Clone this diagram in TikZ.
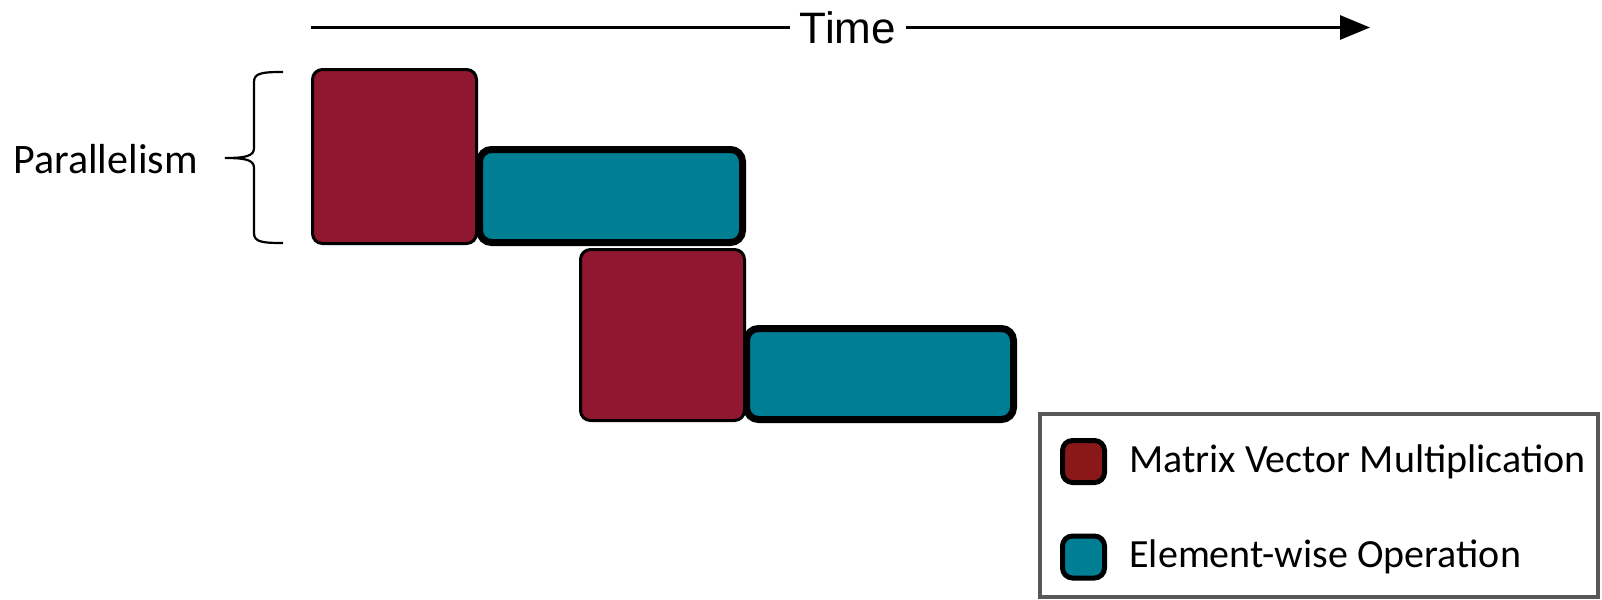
\documentclass[tikz,border=0pt]{standalone}
\usepackage{fontspec}
\setmainfont{Carlito}
\newfontfamily\timefont{Liberation Sans}
\usetikzlibrary{arrows.meta}
\definecolor{mvmred}{HTML}{8F1830}
\definecolor{ewteal}{HTML}{007E94}
\definecolor{legred}{HTML}{8B1818}
\definecolor{framegray}{HTML}{58585A}
\tikzset{
  mvmbox/.style={draw=black, line width=1.5pt, fill=mvmred, rounded corners=5pt,
    inner sep=0pt, minimum width=82pt},
  ewbox/.style={draw=black, line width=3.5pt, fill=ewteal, rounded corners=6pt,
    inner sep=0pt},
  legsq/.style={draw=black, line width=2.5pt, rounded corners=5pt, inner sep=0pt,
    minimum width=21pt, minimum height=21pt},
  legtext/.style={anchor=west, inner sep=0pt, font=\fontsize{20pt}{24pt}\selectfont},
}
\begin{document}
\begin{tikzpicture}[x=0.5pt, y=-0.5pt]
\useasboundingbox (0,0) rectangle (1602,600);

% time axis
\coordinate (tstart) at (311,27.5);
\coordinate (tend) at (1370,27.5);
\node[fill=white, inner xsep=5pt, inner ysep=2pt, font=\timefont\fontsize{22pt}{26pt}\selectfont] (time) at (848,28) {Time};
\draw[line width=1.5pt] (tstart) -- (time.west |- tstart);
\draw[line width=1.5pt, -{Triangle[length=15pt, width=12pt]}] (time.east |- tstart) -- (tend);

% operation blocks
\node[mvmbox, minimum height=87pt] (mvm1) at (394.5,156.5) {};
\node[mvmbox, minimum height=85.5pt] (mvm2) at (662.5,335) {};
\node[ewbox, minimum width=131.5pt, minimum height=46.5pt] (ew1) at (611,196) {};
\node[ewbox, minimum width=133.5pt, minimum height=45.5pt] (ew2) at (880,374) {};

% parallelism brace
\coordinate (btop) at (283,72);
\coordinate (bbot) at (283,243);
\coordinate (btip) at (225,158);
\draw[line width=1.1pt]
  (btop) .. controls (262,72) and (254,73) .. (254,82)
  -- (254,148) .. controls (254,156) and (246,158) .. (btip)
  .. controls (246,158) and (254,160) .. (254,168)
  -- (254,233) .. controls (254,242) and (262,243) .. (bbot);
\node[anchor=east, inner sep=0pt, font=\fontsize{21pt}{25pt}\selectfont] (par) at (198,159) {Parallelism};

% legend
\draw[draw=framegray, line width=2pt] (1040,414) rectangle (1598,597);
\node[legsq, fill=legred] (lmvm) at (1083.5,461.5) {};
\node[legsq, fill=ewteal] (lew) at (1083.5,557) {};
\node[legtext] (lmvmtext) at (1129,462) {Matrix Vector Multiplication};
\node[legtext] (lewtext) at (1129,557) {Element-wise Operation};
\end{tikzpicture}
\end{document}
